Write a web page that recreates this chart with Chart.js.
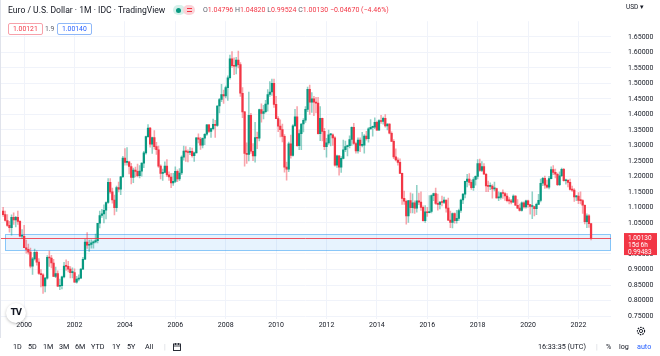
<!DOCTYPE html>
<html><head><meta charset="utf-8">
<script src="https://cdn.jsdelivr.net/npm/chart.js@4.4.0/dist/chart.umd.min.js"></script>
<style>
html,body{margin:0;padding:0;background:#fff;width:660px;height:356px;overflow:hidden;font-family:Roboto,"Liberation Sans",sans-serif;color:#131722}
#wrap{position:absolute;left:0;top:0;width:660px;height:340px}
canvas{display:block}
.abs{position:absolute;white-space:nowrap}
#title{left:8px;top:5px;font-size:8.6px;color:#131722}
#ohlc{left:203px;top:6px;font-size:7px;color:#f23645}
#ohlc b{font-weight:normal;color:#5d606b}
.pill{position:absolute;top:5px;height:10px;border-radius:5px}
.box{position:absolute;top:23px;height:10px;line-height:10px;font-size:6.8px;padding:0 4px;border-radius:2px;background:#fff}
#tb span{position:absolute;top:342px;font-size:7.2px;color:#131722}
#lborder{position:absolute;left:0;top:0;width:1px;height:338px;background:#e0e3eb}
</style></head>
<body>
<div id="wrap"><canvas id="c" width="660" height="340"></canvas></div>
<div id="lborder"></div>
<div class="abs" id="title">Euro / U.S. Dollar · 1M · IDC · TradingView</div>
<div class="pill" style="left:173px;width:12px;background:#d6f0ea"><div style="position:absolute;left:3px;top:2.5px;width:5px;height:5px;border-radius:3px;background:#089981"></div></div>
<div class="pill" style="left:183px;width:12px;background:#fbd3d8"><div style="position:absolute;left:3.5px;top:3px;width:5px;height:1px;background:#f23645"></div><div style="position:absolute;left:3.5px;top:6px;width:5px;height:1px;background:#f23645"></div></div>
<div class="abs" id="ohlc"><b>O</b>1.04796 <b>H</b>1.04820 <b>L</b>0.99524 <b>C</b>1.00130 −0.04670 (−4.46%)</div>
<div class="box" style="left:8px;border:1px solid #f7a1aa;color:#f23645">1.00121</div>
<div class="abs" style="left:45px;top:25px;font-size:6.8px;color:#5d606b">1.9</div>
<div class="box" style="left:57px;border:1px solid #8fb8f8;color:#2962ff">1.00140</div>
<div class="abs" style="left:626px;top:3px;font-size:6.5px;color:#131722">USD ▾</div>
<div class="abs" style="left:6px;top:303px;width:20px;height:20px;border-radius:10px;background:#fff;box-shadow:0 1px 3px rgba(0,0,0,0.25);font:bold 8px 'DejaVu Sans',sans-serif;line-height:20px;text-align:center;letter-spacing:-0.5px;color:#131722">TV</div>
<svg class="abs" style="left:635px;top:325px" width="12" height="12" viewBox="0 0 12 12"><circle cx="6" cy="6" r="3.6" fill="none" stroke="#131722" stroke-width="1.1" stroke-dasharray="1.6 1"/><circle cx="6" cy="6" r="1.6" fill="none" stroke="#131722" stroke-width="0.9"/></svg>
<div id="tb">
<span style="left:13px">1D</span><span style="left:28px">5D</span><span style="left:43px">1M</span><span style="left:59px">3M</span><span style="left:75px">6M</span><span style="left:91px">YTD</span><span style="left:112px">1Y</span><span style="left:127px">5Y</span><span style="left:145px">All</span>
<span style="left:164px;color:#d1d4dc">|</span>
<span style="left:538px">16:33:35 (UTC)</span>
<span style="left:596px;color:#d1d4dc">|</span>
<span style="left:606px">%</span><span style="left:619px">log</span><span style="left:637px;color:#2962ff">auto</span>
</div>
<svg class="abs" style="left:172px;top:342px" width="10" height="10" viewBox="0 0 10 10"><rect x="1.5" y="2" width="7" height="6.5" fill="none" stroke="#131722" stroke-width="0.9"/><line x1="1.5" y1="4" x2="8.5" y2="4" stroke="#131722" stroke-width="0.8"/><line x1="3.5" y1="1" x2="3.5" y2="3" stroke="#131722" stroke-width="0.8"/><line x1="6.5" y1="1" x2="6.5" y2="3" stroke="#131722" stroke-width="0.8"/></svg>
<script>
const months = [
'1999-03','1999-04','1999-05','1999-06','1999-07','1999-08','1999-09','1999-10','1999-11','1999-12',
'2000-01','2000-02','2000-03','2000-04','2000-05','2000-06','2000-07','2000-08','2000-09','2000-10','2000-11','2000-12',
'2001-01','2001-02','2001-03','2001-04','2001-05','2001-06','2001-07','2001-08','2001-09','2001-10','2001-11','2001-12',
'2002-01','2002-02','2002-03','2002-04','2002-05','2002-06','2002-07','2002-08','2002-09','2002-10','2002-11','2002-12',
'2003-01','2003-02','2003-03','2003-04','2003-05','2003-06','2003-07','2003-08','2003-09','2003-10','2003-11','2003-12',
'2004-01','2004-02','2004-03','2004-04','2004-05','2004-06','2004-07','2004-08','2004-09','2004-10','2004-11','2004-12',
'2005-01','2005-02','2005-03','2005-04','2005-05','2005-06','2005-07','2005-08','2005-09','2005-10','2005-11','2005-12',
'2006-01','2006-02','2006-03','2006-04','2006-05','2006-06','2006-07','2006-08','2006-09','2006-10','2006-11','2006-12',
'2007-01','2007-02','2007-03','2007-04','2007-05','2007-06','2007-07','2007-08','2007-09','2007-10','2007-11','2007-12',
'2008-01','2008-02','2008-03','2008-04','2008-05','2008-06','2008-07','2008-08','2008-09','2008-10','2008-11','2008-12',
'2009-01','2009-02','2009-03','2009-04','2009-05','2009-06','2009-07','2009-08','2009-09','2009-10','2009-11','2009-12',
'2010-01','2010-02','2010-03','2010-04','2010-05','2010-06','2010-07','2010-08','2010-09','2010-10','2010-11','2010-12',
'2011-01','2011-02','2011-03','2011-04','2011-05','2011-06','2011-07','2011-08','2011-09','2011-10','2011-11','2011-12',
'2012-01','2012-02','2012-03','2012-04','2012-05','2012-06','2012-07','2012-08','2012-09','2012-10','2012-11','2012-12',
'2013-01','2013-02','2013-03','2013-04','2013-05','2013-06','2013-07','2013-08','2013-09','2013-10','2013-11','2013-12',
'2014-01','2014-02','2014-03','2014-04','2014-05','2014-06','2014-07','2014-08','2014-09','2014-10','2014-11','2014-12',
'2015-01','2015-02','2015-03','2015-04','2015-05','2015-06','2015-07','2015-08','2015-09','2015-10','2015-11','2015-12',
'2016-01','2016-02','2016-03','2016-04','2016-05','2016-06','2016-07','2016-08','2016-09','2016-10','2016-11','2016-12',
'2017-01','2017-02','2017-03','2017-04','2017-05','2017-06','2017-07','2017-08','2017-09','2017-10','2017-11','2017-12',
'2018-01','2018-02','2018-03','2018-04','2018-05','2018-06','2018-07','2018-08','2018-09','2018-10','2018-11','2018-12',
'2019-01','2019-02','2019-03','2019-04','2019-05','2019-06','2019-07','2019-08','2019-09','2019-10','2019-11','2019-12',
'2020-01','2020-02','2020-03','2020-04','2020-05','2020-06','2020-07','2020-08','2020-09','2020-10','2020-11','2020-12',
'2021-01','2021-02','2021-03','2021-04','2021-05','2021-06','2021-07','2021-08','2021-09','2021-10','2021-11','2021-12',
'2022-01','2022-02','2022-03','2022-04','2022-05','2022-06','2022-07'
];
const open = [
1.0880,1.0770,1.0580,1.0420,1.0350,1.0680,1.0600,1.0680,1.0550,1.0070,
1.0070,0.9700,0.9650,0.9560,0.9110,0.9340,0.9550,0.9240,0.8870,0.8830,0.8470,0.8720,
0.9390,0.9370,0.9210,0.8780,0.8870,0.8460,0.8480,0.8760,0.9110,0.9100,0.9010,0.8900,
0.8900,0.8590,0.8690,0.8720,0.9010,0.9330,0.9880,0.9780,0.9810,0.9860,0.9890,0.9930,
1.0490,1.0740,1.0790,1.0910,1.1160,1.1810,1.1500,1.1240,1.0990,1.1640,1.1590,1.1990,
1.2590,1.2450,1.2470,1.2320,1.1970,1.2200,1.2160,1.2020,1.2170,1.2430,1.2760,1.3280,
1.3560,1.3040,1.3250,1.2960,1.2860,1.2330,1.2100,1.2130,1.2330,1.2050,1.1980,1.1790,
1.1840,1.2160,1.1920,1.2110,1.2620,1.2820,1.2790,1.2770,1.2810,1.2670,1.2760,1.3240,
1.3200,1.3010,1.3230,1.3360,1.3660,1.3450,1.3540,1.3680,1.3640,1.4270,1.4480,1.4640,
1.4590,1.4860,1.5180,1.5790,1.5570,1.5550,1.5750,1.5600,1.4680,1.4080,1.2740,1.2710,
1.3970,1.2810,1.2660,1.3250,1.3230,1.4150,1.4030,1.4090,1.4330,1.4640,1.4720,1.5000,
1.4320,1.3860,1.3620,1.3510,1.3290,1.2300,1.2230,1.3050,1.2680,1.3630,1.3920,1.2990,
1.3380,1.3690,1.3810,1.4160,1.4810,1.4390,1.4500,1.4390,1.4360,1.3380,1.3870,1.3450,
1.2960,1.3080,1.3340,1.3340,1.3240,1.2360,1.2660,1.2300,1.2580,1.2860,1.2960,1.2990,
1.3190,1.3580,1.3060,1.2820,1.3170,1.3000,1.3010,1.3300,1.3220,1.3530,1.3580,1.3590,
1.3740,1.3490,1.3800,1.3770,1.3870,1.3630,1.3690,1.3390,1.3130,1.2630,1.2530,1.2450,
1.2100,1.1290,1.1200,1.0730,1.1220,1.0990,1.1150,1.0980,1.1210,1.1170,1.1000,1.0570,
1.0860,1.0830,1.0870,1.1380,1.1450,1.1130,1.1100,1.1170,1.1160,1.1240,1.0980,1.0590,
1.0520,1.0800,1.0570,1.0650,1.0900,1.1240,1.1430,1.1840,1.1910,1.1810,1.1640,1.1900,
1.2000,1.2410,1.2190,1.2320,1.2070,1.1690,1.1680,1.1690,1.1600,1.1610,1.1310,1.1320,
1.1470,1.1450,1.1370,1.1220,1.1210,1.1170,1.1370,1.1070,1.0980,1.0900,1.1150,1.1020,
1.1210,1.1090,1.1030,1.1030,1.0960,1.1100,1.1230,1.1780,1.1940,1.1720,1.1650,1.1930,
1.2220,1.2130,1.2070,1.1730,1.2020,1.2230,1.1860,1.1870,1.1810,1.1580,1.1560,1.1340,
1.1370,1.1230,1.1220,1.1070,1.0540,1.0730,1.04796
];
const high = [
1.1000,1.0880,1.0770,1.0550,1.0760,1.0830,1.0710,1.0880,1.0580,1.0290,
1.0420,0.9950,0.9820,0.9690,0.9390,0.9660,0.9600,0.9350,0.9000,0.8870,0.8750,0.9450,
0.9590,0.9460,0.9330,0.9080,0.8960,0.8690,0.8790,0.9230,0.9310,0.9260,0.9090,0.9050,
0.9020,0.8780,0.8830,0.9030,0.9390,0.9970,1.0190,0.9950,0.9960,0.9920,1.0140,1.0490,
1.0880,1.0940,1.1080,1.1180,1.1930,1.1930,1.1620,1.1400,1.1690,1.1820,1.2000,1.2650,
1.2900,1.2930,1.2480,1.2420,1.2270,1.2300,1.2400,1.2350,1.2440,1.2810,1.3300,1.3670,
1.3580,1.3270,1.3480,1.3100,1.2980,1.2370,1.2240,1.2470,1.2540,1.2150,1.2100,1.2100,
1.2310,1.2210,1.2250,1.2660,1.2980,1.2960,1.2860,1.2930,1.2910,1.2780,1.3250,1.3370,
1.3260,1.3240,1.3380,1.3680,1.3680,1.3560,1.3850,1.3810,1.4280,1.4520,1.4970,1.4780,
1.4910,1.5240,1.5910,1.6020,1.5820,1.5840,1.6040,1.5670,1.4860,1.4100,1.3080,1.4720,
1.4030,1.3060,1.3740,1.3430,1.4170,1.4340,1.4290,1.4450,1.4800,1.5060,1.5140,1.5140,
1.4580,1.3930,1.3820,1.3690,1.3350,1.2460,1.3110,1.3330,1.3670,1.4160,1.4250,1.3500,
1.3700,1.3860,1.4250,1.4880,1.4940,1.4700,1.4580,1.4550,1.4550,1.4250,1.3880,1.3550,
1.3230,1.3490,1.3390,1.3370,1.3280,1.2690,1.2670,1.2640,1.3170,1.3140,1.3010,1.3310,
1.3600,1.3710,1.3110,1.3240,1.3240,1.3420,1.3350,1.3450,1.3570,1.3830,1.3620,1.3890,
1.3780,1.3830,1.3970,1.3910,1.3990,1.3700,1.3700,1.3440,1.3190,1.2890,1.2600,1.2570,
1.2110,1.1530,1.1240,1.1220,1.1470,1.1440,1.1210,1.1710,1.1460,1.1500,1.1050,1.1060,
1.1000,1.1380,1.1410,1.1460,1.1620,1.1430,1.1190,1.1370,1.1330,1.1240,1.1300,1.0880,
1.0830,1.0830,1.0910,1.0950,1.1270,1.1450,1.1850,1.2070,1.2090,1.1880,1.1960,1.2020,
1.2540,1.2560,1.2480,1.2410,1.2100,1.1850,1.1790,1.1740,1.1820,1.1620,1.1500,1.1490,
1.1570,1.1490,1.1450,1.1320,1.1260,1.1410,1.1380,1.1250,1.1110,1.1180,1.1180,1.1240,
1.1240,1.1100,1.1500,1.1040,1.1140,1.1420,1.1910,1.1970,1.2010,1.1880,1.2000,1.2310,
1.2350,1.2240,1.2110,1.2150,1.2270,1.2260,1.1910,1.1900,1.1910,1.1690,1.1610,1.1390,
1.1480,1.1500,1.1250,1.1080,1.0790,1.0770,1.04820
];
const low = [
1.0710,1.0560,1.0390,1.0200,1.0110,1.0450,1.0370,1.0450,1.0050,0.9990,
0.9700,0.9530,0.9490,0.9050,0.8840,0.9300,0.9140,0.8840,0.8440,0.8230,0.8280,0.8690,
0.9100,0.9050,0.8770,0.8740,0.8450,0.8350,0.8370,0.8730,0.8970,0.8920,0.8730,0.8730,
0.8580,0.8560,0.8630,0.8710,0.9000,0.9320,0.9680,0.9580,0.9690,0.9690,0.9860,0.9860,
1.0340,1.0680,1.0500,1.0630,1.1130,1.1450,1.1140,1.0760,1.0870,1.1500,1.1410,1.1960,
1.2360,1.2360,1.2080,1.1760,1.1800,1.1980,1.1980,1.1950,1.2010,1.2280,1.2720,1.3260,
1.2940,1.2740,1.2880,1.2710,1.2290,1.1920,1.1870,1.2110,1.1990,1.1870,1.1640,1.1710,
1.1800,1.1830,1.1860,1.2060,1.2520,1.2480,1.2470,1.2700,1.2620,1.2480,1.2760,1.3080,
1.2870,1.2920,1.3020,1.3320,1.3410,1.3260,1.3500,1.3260,1.3610,1.4050,1.4410,1.4350,
1.4530,1.4450,1.5130,1.5510,1.5280,1.5300,1.5500,1.4580,1.3890,1.2330,1.2420,1.2500,
1.2740,1.2510,1.2460,1.2890,1.3140,1.3750,1.3850,1.4050,1.4100,1.4580,1.4610,1.4220,
1.3860,1.3440,1.3270,1.3110,1.2140,1.1880,1.2150,1.2590,1.2650,1.3620,1.2970,1.2860,
1.2860,1.3430,1.3740,1.4090,1.4000,1.4060,1.3960,1.4050,1.3360,1.3150,1.3140,1.2860,
1.2620,1.3030,1.2980,1.3000,1.2330,1.2290,1.2040,1.2130,1.2560,1.2800,1.2660,1.2920,
1.3000,1.3030,1.2750,1.2750,1.2800,1.2950,1.2750,1.3170,1.3100,1.3520,1.3300,1.3540,
1.3480,1.3480,1.3710,1.3680,1.3590,1.3500,1.3370,1.3130,1.2570,1.2500,1.2360,1.2100,
1.1100,1.1100,1.0460,1.0520,1.0820,1.0820,1.0810,1.0850,1.1090,1.0900,1.0560,1.0520,
1.0710,1.0820,1.0820,1.1220,1.1100,1.0910,1.0950,1.1050,1.1120,1.0850,1.0570,1.0350,
1.0340,1.0490,1.0490,1.0570,1.0840,1.1120,1.1310,1.1660,1.1720,1.1580,1.1550,1.1720,
1.1920,1.2160,1.2150,1.2070,1.1510,1.1510,1.1570,1.1300,1.1530,1.1300,1.1220,1.1270,
1.1290,1.1230,1.1180,1.1110,1.1110,1.1160,1.1060,1.0960,1.0880,1.0880,1.0980,1.0980,
1.1000,1.0780,1.0640,1.0730,1.0770,1.1100,1.1180,1.1700,1.1610,1.1620,1.1600,1.1920,
1.2060,1.1950,1.1700,1.1700,1.1990,1.1850,1.1750,1.1660,1.1560,1.1520,1.1190,1.1220,
1.1120,1.1110,1.0810,1.0470,1.0350,1.0360,0.99524
];
const close = [
1.0770,1.0580,1.0420,1.0350,1.0680,1.0600,1.0680,1.0550,1.0070,1.0070,
0.9700,0.9650,0.9560,0.9110,0.9340,0.9550,0.9240,0.8870,0.8830,0.8470,0.8720,0.9390,
0.9370,0.9210,0.8780,0.8870,0.8460,0.8480,0.8760,0.9110,0.9100,0.9010,0.8900,0.8900,
0.8590,0.8690,0.8720,0.9010,0.9330,0.9880,0.9780,0.9810,0.9860,0.9890,0.9930,1.0490,
1.0740,1.0790,1.0910,1.1160,1.1810,1.1500,1.1240,1.0990,1.1640,1.1590,1.1990,1.2590,
1.2450,1.2470,1.2320,1.1970,1.2200,1.2160,1.2020,1.2170,1.2430,1.2760,1.3280,1.3560,
1.3040,1.3250,1.2960,1.2860,1.2330,1.2100,1.2130,1.2330,1.2050,1.1980,1.1790,1.1840,
1.2160,1.1920,1.2110,1.2620,1.2820,1.2790,1.2770,1.2810,1.2670,1.2760,1.3240,1.3200,
1.3010,1.3230,1.3360,1.3660,1.3450,1.3540,1.3680,1.3640,1.4270,1.4480,1.4640,1.4590,
1.4860,1.5180,1.5790,1.5570,1.5550,1.5750,1.5600,1.4680,1.4080,1.2740,1.2710,1.3970,
1.2810,1.2660,1.3250,1.3230,1.4150,1.4030,1.4090,1.4330,1.4640,1.4720,1.5000,1.4320,
1.3860,1.3620,1.3510,1.3290,1.2300,1.2230,1.3050,1.2680,1.3630,1.3920,1.2990,1.3380,
1.3690,1.3810,1.4160,1.4810,1.4390,1.4500,1.4390,1.4360,1.3380,1.3870,1.3450,1.2960,
1.3080,1.3340,1.3340,1.3240,1.2360,1.2660,1.2300,1.2580,1.2860,1.2960,1.2990,1.3190,
1.3580,1.3060,1.2820,1.3170,1.3000,1.3010,1.3300,1.3220,1.3530,1.3580,1.3590,1.3740,
1.3490,1.3800,1.3770,1.3870,1.3630,1.3690,1.3390,1.3130,1.2630,1.2530,1.2450,1.2100,
1.1290,1.1200,1.0730,1.1220,1.0990,1.1150,1.0980,1.1210,1.1170,1.1000,1.0570,1.0860,
1.0830,1.0870,1.1380,1.1450,1.1130,1.1100,1.1170,1.1160,1.1240,1.0980,1.0590,1.0520,
1.0800,1.0570,1.0650,1.0900,1.1240,1.1430,1.1840,1.1910,1.1810,1.1640,1.1900,1.2000,
1.2410,1.2190,1.2320,1.2070,1.1690,1.1680,1.1690,1.1600,1.1610,1.1310,1.1320,1.1470,
1.1450,1.1370,1.1220,1.1210,1.1170,1.1370,1.1070,1.0980,1.0900,1.1150,1.1020,1.1210,
1.1090,1.1030,1.1030,1.0960,1.1100,1.1230,1.1780,1.1940,1.1720,1.1650,1.1930,1.2220,
1.2130,1.2070,1.1730,1.2020,1.2230,1.1860,1.1870,1.1810,1.1580,1.1560,1.1340,1.1370,
1.1230,1.1220,1.1070,1.0540,1.0730,1.0480,1.00130
];
const xTickLabels = ['2000','2002','2004','2006','2008','2010','2012','2014','2016','2018','2020','2022'];
const yTickValues = [0.75,0.80,0.85,0.90,0.95,1.00,1.05,1.10,1.15,1.20,1.25,1.30,1.35,1.40,1.45,1.50,1.55,1.60,1.65];
// highlighted zone and last price marker
const zoneStart = '1999-04';
const zoneTop = 1.0148;
const zoneBottom = 0.9616;
const lastPrice = 1.00130;
const priceLabel = ['1.00130','15d 6h','0.99483'];

const UP = '#089981', DOWN = '#f23645';
const idx = m => (parseInt(m.slice(0,4)) - 2000) * 12 + parseInt(m.slice(5,7)) - 1;
const isUp = months.map((m,i) => close[i] >= open[i]);

const overlay = {
  id: 'overlay',
  beforeDatasetsDraw(chart) {
    const {ctx, chartArea: a, scales: {x, y}} = chart;
    const x0 = Math.max(a.left, x.getPixelForValue(idx(zoneStart)));
    const yt = Math.round(y.getPixelForValue(zoneTop)) + 0.5;
    const yb = Math.round(y.getPixelForValue(zoneBottom)) + 0.5;
    ctx.save();
    ctx.fillStyle = 'rgba(33,150,243,0.11)';
    ctx.fillRect(x0, yt, a.right - x0, yb - yt);
    ctx.strokeStyle = 'rgba(33,150,243,0.5)';
    ctx.lineWidth = 1;
    ctx.strokeRect(Math.round(x0) + 0.5, yt, a.right - Math.round(x0) - 1, yb - yt);
    ctx.restore();
  },
  afterDatasetsDraw(chart) {
    const {ctx, chartArea: a, scales: {y}} = chart;
    const py = Math.round(y.getPixelForValue(lastPrice)) + 0.5;
    ctx.save();
    ctx.strokeStyle = 'rgba(242,54,69,0.85)';
    ctx.lineWidth = 1;
    ctx.beginPath(); ctx.moveTo(a.left, py); ctx.lineTo(a.right, py); ctx.stroke();
    ctx.restore();
  },
  afterDraw(chart) {
    const {ctx, scales: {y}} = chart;
    const py = y.getPixelForValue(lastPrice);
    ctx.save();
    ctx.fillStyle = '#f23645';
    ctx.fillRect(624, py - 5, 33, 22);
    ctx.fillStyle = '#ffffff';
    ctx.font = '6.5px Roboto';
    ctx.textBaseline = 'middle';
    ctx.textAlign = 'left';
    ctx.fillText(priceLabel[0], 628, py);
    ctx.fillText(priceLabel[1], 628, py + 7.3);
    ctx.fillText(priceLabel[2], 628, py + 14.6);
    ctx.restore();
  }
};

new Chart(document.getElementById('c'), {
  type: 'bar',
  data: {
    datasets: [
      {
        label: 'body',
        order: 0,
        data: months.map((m,i) => ({x: idx(m), y: [open[i], close[i]]})),
        backgroundColor: isUp.map(u => u ? UP : DOWN),
        barThickness: 1.6,
        minBarLength: 1,
        grouped: false,
        borderWidth: 0
      },
      {
        label: 'wick',
        order: 1,
        data: months.map((m,i) => ({x: idx(m), y: [low[i], high[i]]})),
        backgroundColor: isUp.map(u => u ? 'rgba(8,153,129,0.45)' : 'rgba(242,54,69,0.45)'),
        barThickness: 0.9,
        grouped: false,
        borderWidth: 0
      }
    ]
  },
  options: {
    responsive: false,
    animation: false,
    layout: {padding: 0, autoPadding: false},
    plugins: {legend: {display: false}, tooltip: {enabled: false}},
    scales: {
      x: {
        type: 'linear', position: 'bottom', offset: false, min: -11.5, max: 279.5,
        afterBuildTicks: s => { s.ticks = xTickLabels.map(l => ({value: (parseInt(l) - 2000) * 12})); },
        afterFit: s => { s.height = 15; },
        ticks: {
          autoSkip: false, maxRotation: 0, padding: 2,
          callback: (v, i) => xTickLabels[i],
          font: {family: 'Roboto', size: 7}, color: '#131722'
        },
        grid: {color: '#f0f3fa', drawTicks: false, offset: false},
        border: {display: false}
      },
      y: {
        type: 'linear', position: 'right', min: 0.7411, max: 1.7002,
        afterBuildTicks: s => { s.ticks = yTickValues.map(v => ({value: v})); },
        afterFit: s => { s.width = 49; },
        ticks: {
          padding: 17,
          callback: v => v.toFixed(5),
          font: {family: 'Roboto', size: 7}, color: '#131722'
        },
        grid: {color: '#f0f3fa', drawTicks: false},
        border: {display: false}
      }
    }
  },
  plugins: [overlay]
});
</script>
</body></html>
